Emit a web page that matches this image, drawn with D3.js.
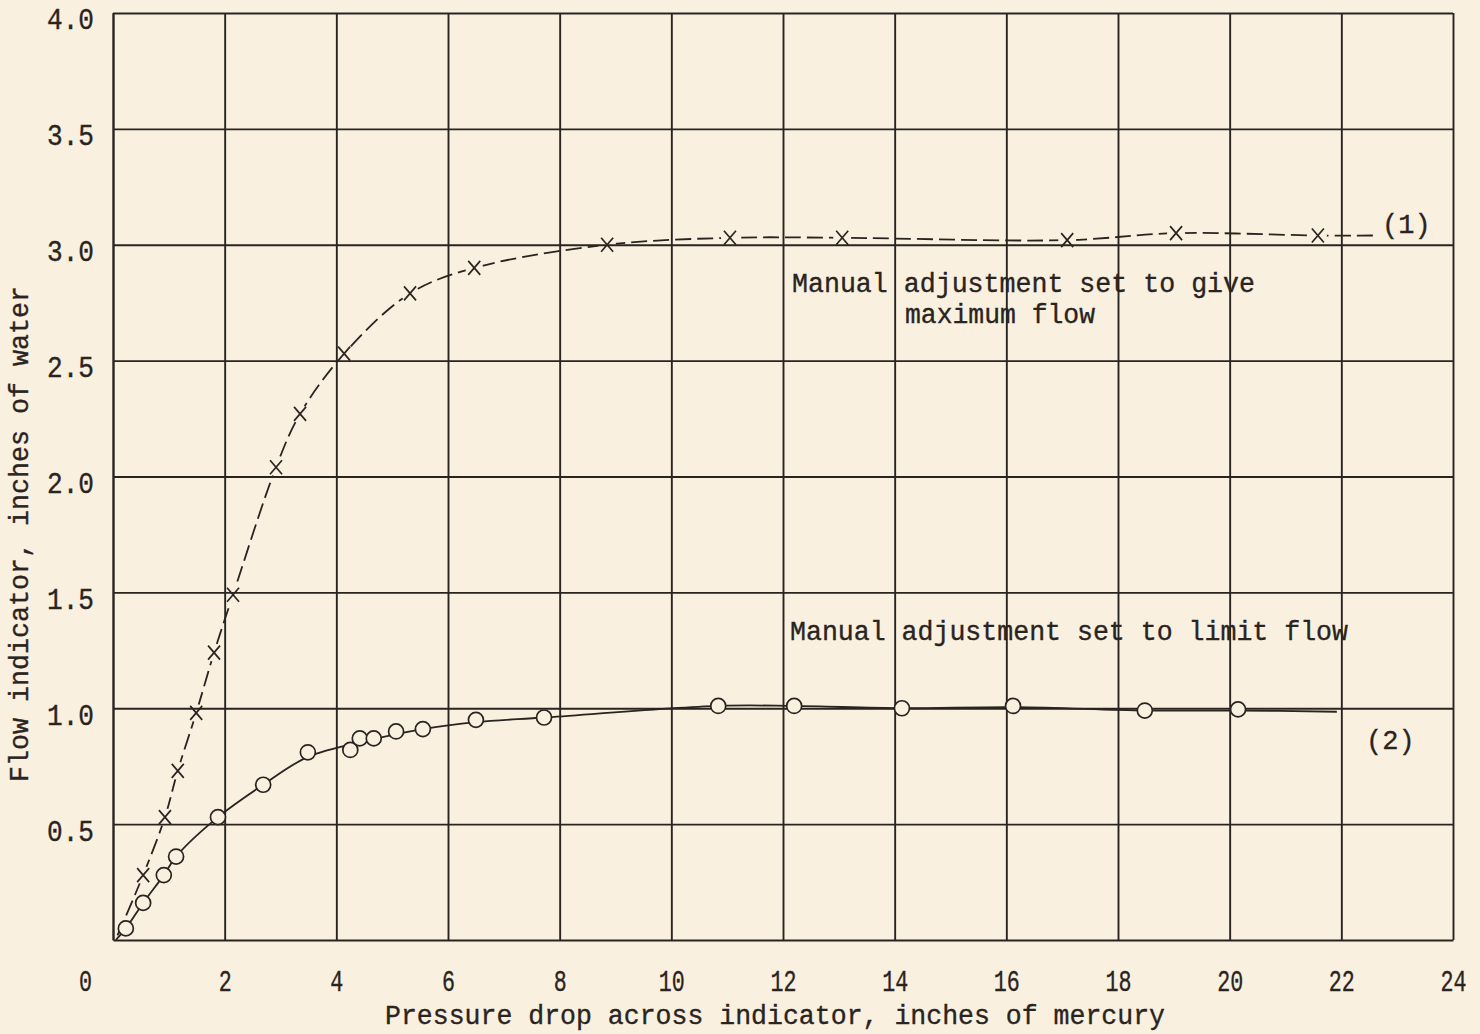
<!DOCTYPE html>
<html>
<head>
<meta charset="utf-8">
<script src="https://cdn.jsdelivr.net/npm/d3@7"></script>
<style>
  html, body { margin: 0; padding: 0; background: #f9f0e0; }
  svg { display: block; }
  text { font-family: "Liberation Mono", "DejaVu Sans Mono", monospace; fill: #2a2420; stroke: #2a2420; stroke-width: 0.35px; }
</style>
</head>
<body>
<svg id="chart"></svg>
<script>
// tick labels
const xTicks = [0, 2, 4, 6, 8, 10, 12, 14, 16, 18, 20, 22, 24];
const yTicks = [0.5, 1.0, 1.5, 2.0, 2.5, 3.0, 3.5, 4.0];

// curve (1): manual adjustment set to give maximum flow  (x markers)
const s1Pressure = [0.54, 0.93, 1.16, 1.49, 1.81, 2.15, 2.92, 3.35, 4.14, 5.32, 6.47, 8.85, 11.05, 13.06, 17.09, 19.04, 21.58];
const s1Flow     = [0.28, 0.53, 0.73, 0.98, 1.24, 1.49, 2.04, 2.27, 2.53, 2.79, 2.90, 3.00, 3.03, 3.03, 3.02, 3.05, 3.04];
// faired line through them, start and end
const s1LineStart = [0.08, 0.02];
const s1LineEnd   = [22.6, 3.04];

// curve (2): manual adjustment set to limit flow  (circles)
const s2Pressure = [0.23, 0.54, 0.91, 1.13, 1.88, 2.69, 3.49, 4.25, 4.42, 4.67, 5.07, 5.55, 6.50, 7.72, 10.84, 12.20, 14.13, 16.12, 18.48, 20.15];
const s2Flow     = [0.05, 0.16, 0.28, 0.36, 0.53, 0.67, 0.81, 0.82, 0.87, 0.87, 0.90, 0.91, 0.95, 0.96, 1.01, 1.01, 1.00, 1.01, 0.99, 0.995];
// faired line (skips the low point at 4.25)
const s2CurvePressure = [0.05, 0.23, 0.54, 0.91, 1.13, 1.88, 2.69, 3.49, 4.55, 5.55, 6.50, 7.72, 10.84, 12.20, 14.13, 16.12, 18.48, 20.15, 21.92];
const s2CurveFlow     = [0.00, 0.05, 0.16, 0.28, 0.36, 0.53, 0.67, 0.79, 0.86, 0.91, 0.94, 0.96, 1.01, 1.01, 1.00, 1.005, 0.99, 0.99, 0.985];

const width = 1480, height = 1034;
const margin = { top: 13, right: 27, bottom: 94, left: 113 };
const ink = "#2a2420";
const paper = "#f9f0e0";

const svg = d3.select("#chart").attr("width", width).attr("height", height);

const x = d3.scaleLinear().domain([0, 24]).range([margin.left, width - margin.right]);
const y = d3.scaleLinear().domain([0, 4]).range([height - margin.bottom, margin.top]);
const plotW = x(24) - x(0);
const plotH = y(0) - y(4);

// x axis + vertical grid
const xAxisGroup = svg.append("g")
    .attr("transform", `translate(0,${y(0)})`)
    .call(d3.axisBottom(x).tickValues(xTicks).tickSize(-plotH).tickSizeOuter(0).tickFormat(d3.format("d")));

xAxisGroup.selectAll("line, path").attr("stroke", ink).attr("stroke-width", 1.9);
xAxisGroup.selectAll(".tick text")
    .attr("y", 51)
    .attr("dy", null)
    .attr("x", d => d === 0 ? -28 : 0)
    .style("font-size", "29px")
    .attr("textLength", d => String(d).length * 13)
    .attr("lengthAdjust", "spacingAndGlyphs");

// y axis + horizontal grid
const yAxisGroup = svg.append("g")
    .attr("transform", `translate(${x(0)},0)`)
    .call(d3.axisLeft(y).tickValues(yTicks).tickSize(-plotW).tickSizeOuter(0).tickPadding(19).tickFormat(d3.format(".1f")));

yAxisGroup.selectAll("line, path").attr("stroke", ink).attr("stroke-width", 1.9);
yAxisGroup.selectAll(".tick text")
    .attr("dy", "0.55em")
    .style("font-size", "29px")
    .attr("textLength", 47)
    .attr("lengthAdjust", "spacingAndGlyphs");

// axis titles
svg.append("text")
    .attr("x", 385).attr("y", 1024)
    .attr("textLength", 780)
    .attr("lengthAdjust", "spacingAndGlyphs")
    .style("font-size", "27px")
    .text("Pressure drop across indicator, inches of mercury");

svg.append("text")
    .attr("transform", "translate(28,782) rotate(-90)")
    .attr("textLength", 496)
    .attr("lengthAdjust", "spacingAndGlyphs")
    .style("font-size", "27px")
    .text("Flow indicator, inches of water");

// mask so the dashed line breaks round each x
const mask = svg.append("defs").append("mask").attr("id", "gap1");
mask.append("rect").attr("width", width).attr("height", height).attr("fill", "white");
mask.selectAll("circle")
    .data(s1Pressure)
    .join("circle")
    .attr("cx", d => x(d))
    .attr("cy", (d, i) => y(s1Flow[i]))
    .attr("r", 9)
    .attr("fill", "black");

// curve (1)
const line = d3.line().x(d => x(d[0])).y(d => y(d[1])).curve(d3.curveCatmullRom.alpha(0.5));
const s1Line = [s1LineStart, ...s1Pressure.map((p, i) => [p, s1Flow[i]]), s1LineEnd];

svg.append("path")
    .attr("fill", "none")
    .attr("stroke", ink)
    .attr("stroke-width", 1.8)
    .attr("stroke-dasharray", "16,6")
    .attr("mask", "url(#gap1)")
    .attr("d", line(s1Line));

svg.append("g").selectAll("path")
    .data(s1Pressure)
    .join("path")
    .attr("transform", (d, i) => `translate(${x(d)},${y(s1Flow[i])})`)
    .attr("d", "M-6,-7L6,7M-6,7L6,-7")
    .attr("stroke", ink)
    .attr("stroke-width", 1.7)
    .attr("fill", "none");

// curve (2)
const s2Line = s2CurvePressure.map((p, i) => [p, s2CurveFlow[i]]);
svg.append("path")
    .attr("fill", "none")
    .attr("stroke", ink)
    .attr("stroke-width", 1.8)
    .attr("d", line(s2Line));

svg.append("g").selectAll("circle")
    .data(s2Pressure)
    .join("circle")
    .attr("cx", d => x(d))
    .attr("cy", (d, i) => y(s2Flow[i]))
    .attr("r", 7.5)
    .attr("fill", paper)
    .attr("stroke", ink)
    .attr("stroke-width", 1.7);

// notes on the sheet
const notes = svg.append("g").style("font-size", "27px");
notes.append("text").attr("x", 792).attr("y", 292)
    .attr("textLength", 463).attr("lengthAdjust", "spacingAndGlyphs")
    .text("Manual adjustment set to give");
notes.append("text").attr("x", 905).attr("y", 323)
    .attr("textLength", 190).attr("lengthAdjust", "spacingAndGlyphs")
    .text("maximum flow");
notes.append("text").attr("x", 790).attr("y", 640)
    .attr("textLength", 558).attr("lengthAdjust", "spacingAndGlyphs")
    .text("Manual adjustment set to limit flow");
notes.append("text").attr("x", 1382).attr("y", 233).text("(1)");
notes.append("text").attr("x", 1366).attr("y", 749).text("(2)");
</script>
</body>
</html>
